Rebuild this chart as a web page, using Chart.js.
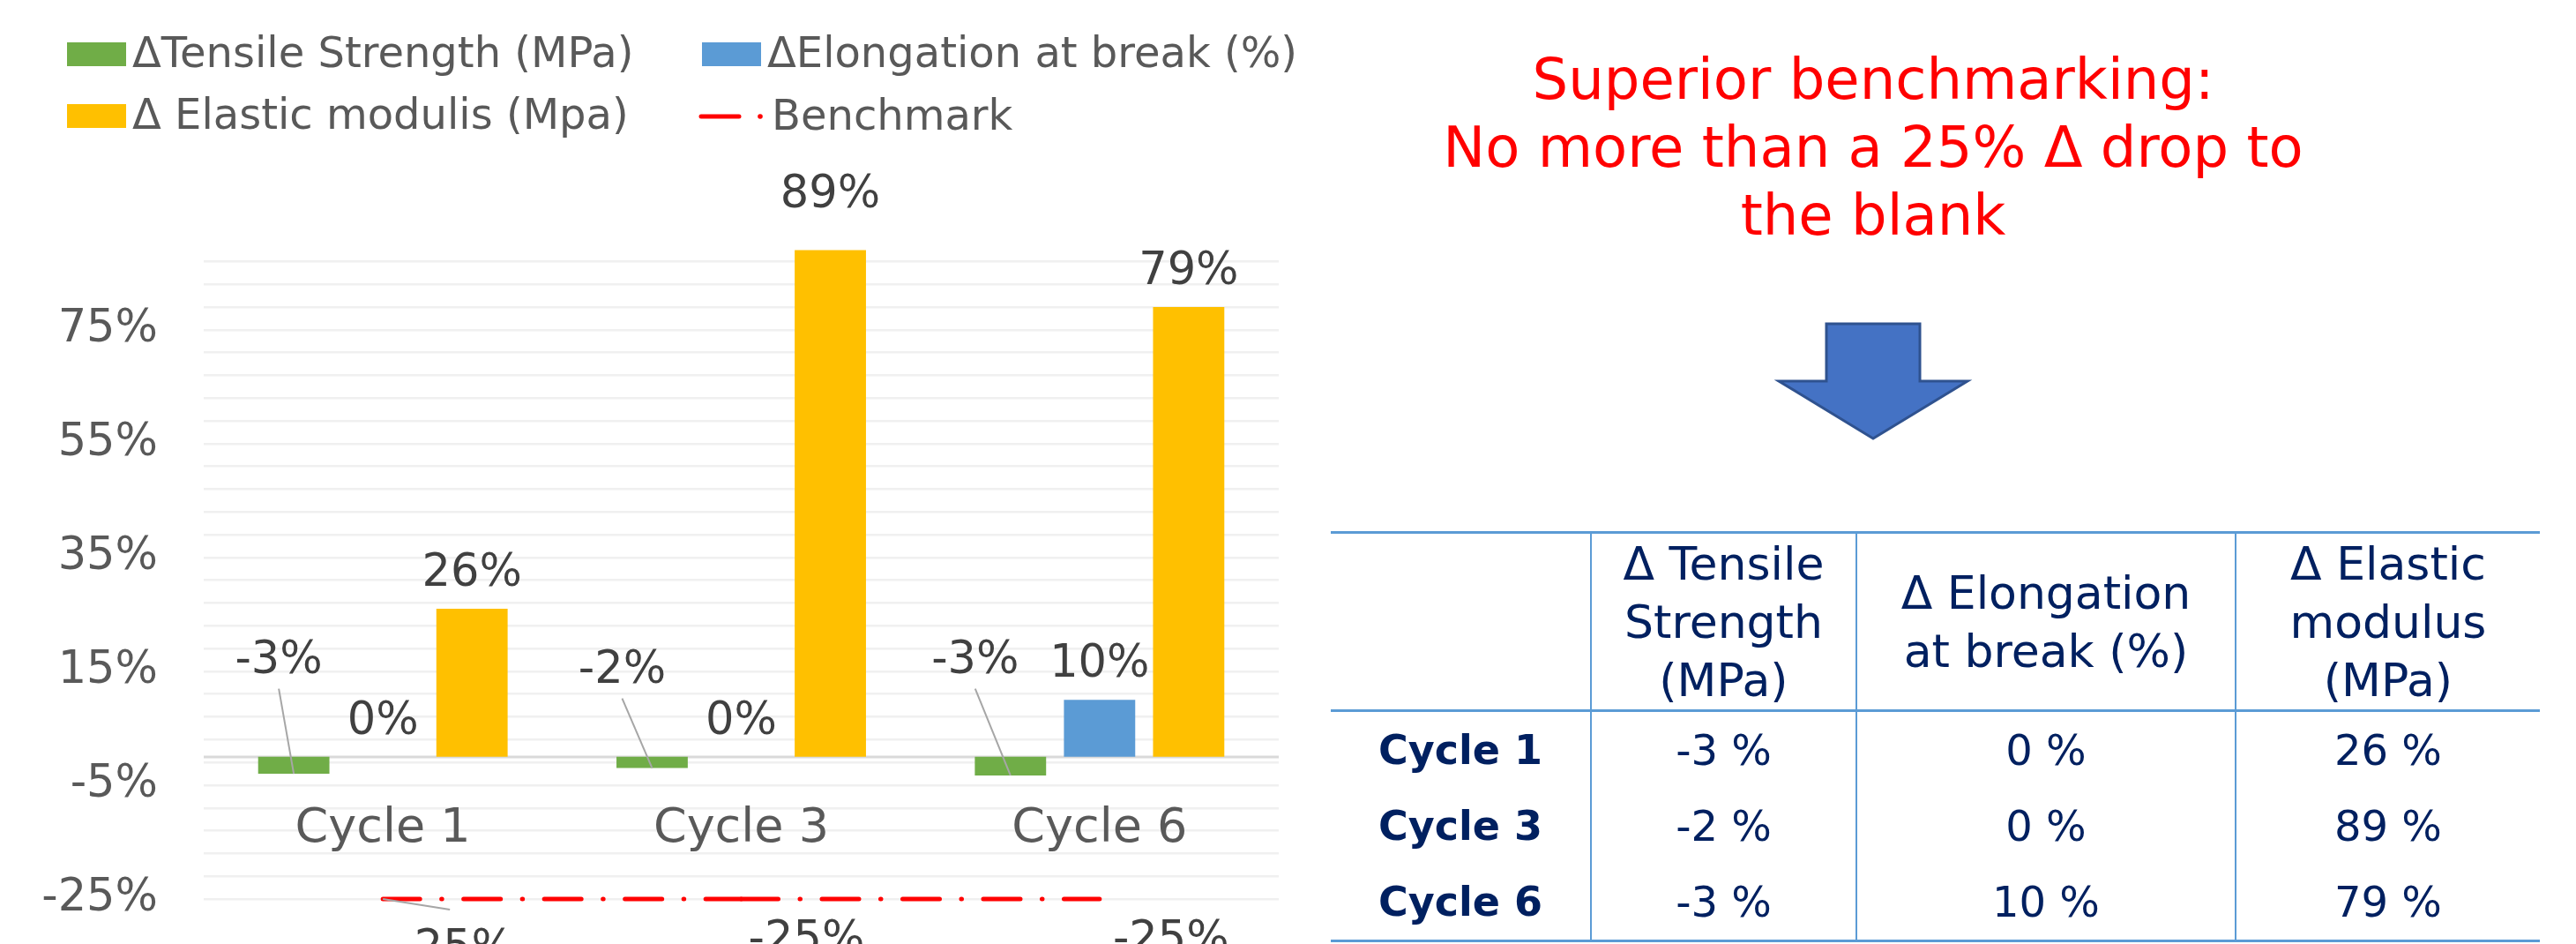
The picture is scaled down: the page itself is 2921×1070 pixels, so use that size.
<!DOCTYPE html>
<html>
<head>
<meta charset="utf-8">
<script src="https://cdn.jsdelivr.net/npm/chart.js@4.4.1/dist/chart.umd.min.js"></script>
<style>
  html, body { margin: 0; padding: 0; background: #fff; }
  body { width: 2921px; height: 1070px; position: relative; overflow: hidden; font-family: 'DejaVu Sans', sans-serif; }
  #chartBox { position: absolute; left: 0; top: 0; }
  #note { position: absolute; left: 1624px; top: 52px; width: 1000px; text-align: center; color: #FF0000; font-size: 64px; line-height: 77px; }
  #arrow { position: absolute; left: 0; top: 0; }
  #results { position: absolute; left: 1509px; top: 602px; border-collapse: collapse; table-layout: fixed; color: #002060; }
  #results td, #results th { padding: 0; text-align: center; vertical-align: middle; }
  #results th { font-weight: normal; font-size: 52px; line-height: 66px; height: 199px; border-top: 3px solid #5B9BD5; border-bottom: 3px solid #5B9BD5; }
  #results td { font-size: 48px; height: 86px; }
  #results tr:last-child td { border-bottom: 3px solid #5B9BD5; }
  #results td.row { font-weight: bold; font-size: 46px; }
  #results .sep { border-left: 2px solid #5B9BD5; }
</style>
</head>
<body>
<canvas id="chartBox" width="1500" height="1070"></canvas>

<div id="note">Superior benchmarking:<br>No more than a 25% Δ drop to<br>the blank</div>

<svg id="arrow" width="2921" height="1070">
  <polygon points="2071,367 2177,367 2177,432 2231,432 2124,497 2017,432 2071,432"
           fill="#4472C4" stroke="#2F528F" stroke-width="3" stroke-linejoin="miter"/>
</svg>

<table id="results">
  <colgroup>
    <col style="width:295px"><col style="width:301px"><col style="width:430px"><col style="width:345px">
  </colgroup>
  <thead>
    <tr>
      <th></th>
      <th class="sep">Δ Tensile<br>Strength<br>(MPa)</th>
      <th class="sep">Δ Elongation<br>at break (%)</th>
      <th class="sep">Δ Elastic<br>modulus<br>(MPa)</th>
    </tr>
  </thead>
  <tbody id="resultsBody"></tbody>
</table>

<script>
const categories = ['Cycle 1', 'Cycle 3', 'Cycle 6'];
const tensileStrength = [-0.03, -0.02, -0.033];
const elongationAtBreak = [0.00, 0.00, 0.10];
const elasticModulus = [0.26, 0.89, 0.79];
const benchmark = [-0.25, -0.25, -0.25];
const yLabelValues = [-0.25, -0.05, 0.15, 0.35, 0.55, 0.75];
const yTickLabels = ['-25%', '-5%', '15%', '35%', '55%', '75%'];
const yMin = -0.25;
const yMax = 0.90;
const gridStep = 0.04;

const FONT = '"DejaVu Sans", sans-serif';
const colors = { tensile: '#70AD47', elongation: '#5B9BD5', elastic: '#FFC000', bench: '#FF0000' };

// hand-moved labels, like in the original sheet
const tensileLabelShift = [{ dx: -17, dy: -95 }, { dx: -34, dy: -84 }, { dx: -40, dy: -95 }];
const benchLabelShift = [{ dx: 83, dy: 71 }, { dx: 74, dy: 61 }, { dx: 81, dy: 61 }];

const pct = v => Math.round(v * 100) + '%';

// table under the arrow
const body = document.getElementById('resultsBody');
categories.forEach((c, i) => {
    const tr = document.createElement('tr');
    const cells = [tensileStrength[i], elongationAtBreak[i], elasticModulus[i]]
        .map(v => `<td class="sep">${Math.round(v * 100)} %</td>`).join('');
    tr.innerHTML = `<td class="row">${c}</td>` + cells;
    body.appendChild(tr);
});

function leader(ctx, x1, y1, x2, y2) {
    ctx.save();
    ctx.strokeStyle = '#A6A6A6';
    ctx.lineWidth = 2;
    ctx.beginPath();
    ctx.moveTo(x1, y1);
    ctx.lineTo(x2, y2);
    ctx.stroke();
    ctx.restore();
}

const excelLabels = {
    id: 'excelLabels',
    beforeDatasetsDraw(chart) {
        const { ctx, chartArea, scales: { y } } = chart;
        const y0 = Math.round(y.getPixelForValue(0));
        ctx.save();
        ctx.strokeStyle = '#D9D9D9';
        ctx.lineWidth = 3;
        ctx.beginPath();
        ctx.moveTo(chartArea.left, y0);
        ctx.lineTo(chartArea.right, y0);
        ctx.stroke();
        ctx.restore();
    },
    afterDatasetsDraw(chart) {
        const { ctx, scales: { x, y } } = chart;
        const y0 = y.getPixelForValue(0);
        ctx.save();
        ctx.textAlign = 'center';
        ctx.textBaseline = 'alphabetic';
        ctx.font = '51px ' + FONT;
        ctx.fillStyle = '#404040';

        // Tensile labels sit above the bars with leader lines
        chart.getDatasetMeta(0).data.forEach((bar, i) => {
            const s = tensileLabelShift[i];
            const lx = bar.x + s.dx, ly = y0 + s.dy;
            ctx.fillText(pct(tensileStrength[i]), lx, ly);
            leader(ctx, lx, ly + 18, bar.x, bar.y);
        });

        // outside end labels
        [1, 2].forEach(d => {
            chart.getDatasetMeta(d).data.forEach((bar, i) => {
                const v = chart.data.datasets[d].data[i];
                let ly = bar.y - 26;
                if (d === 2 && i === 1) ly -= 22;
                ctx.fillText(pct(v), bar.x, ly);
            });
        });

        // benchmark labels, mostly cut off by the slide edge
        chart.getDatasetMeta(3).data.forEach((pt, i) => {
            const s = benchLabelShift[i];
            if (i === 0) leader(ctx, pt.x, pt.y, pt.x + 76, pt.y + 12);
            ctx.fillText(pct(benchmark[i]), pt.x + s.dx, pt.y + s.dy);
        });

        // category labels next to the zero axis
        ctx.font = '54px ' + FONT;
        ctx.fillStyle = '#595959';
        categories.forEach((c, i) => {
            ctx.fillText(c, x.getPixelForValue(i), y0 + 96);
        });
        ctx.restore();
    },
    afterDraw(chart) {
        const ctx = chart.ctx;
        const ds = chart.data.datasets;
        const slots = [{ x: 76, y: 48 }, { x: 796, y: 48 }, { x: 76, y: 118 }, { x: 793, y: 118 }];
        ctx.save();
        ctx.font = '48px ' + FONT;
        ctx.fillStyle = '#595959';
        ctx.textBaseline = 'alphabetic';
        ctx.textAlign = 'left';
        ds.forEach((d, i) => {
            const s = slots[i];
            if (d.type === 'line') {
                ctx.strokeStyle = d.borderColor;
                ctx.lineWidth = 5;
                ctx.lineCap = 'round';
                ctx.beginPath();
                ctx.moveTo(s.x + 2, s.y + 14);
                ctx.lineTo(s.x + 45, s.y + 14);
                ctx.stroke();
                ctx.beginPath();
                ctx.arc(s.x + 69, s.y + 14, 2.8, 0, Math.PI * 2);
                ctx.fillStyle = d.borderColor;
                ctx.fill();
                ctx.fillStyle = '#595959';
                ctx.fillText(d.label, s.x + 82, s.y + 29);
            } else {
                ctx.fillStyle = d.backgroundColor;
                ctx.fillRect(s.x, s.y, 67, 27);
                ctx.fillStyle = '#595959';
                ctx.fillText(d.label, s.x + 74, s.y + 28);
            }
        });
        ctx.restore();
    }
};

new Chart(document.getElementById('chartBox'), {
    type: 'bar',
    data: {
        labels: categories,
        datasets: [
            { label: 'ΔTensile Strength (MPa)', data: tensileStrength, backgroundColor: colors.tensile },
            { label: 'ΔElongation at break (%)', data: elongationAtBreak, backgroundColor: colors.elongation },
            { label: 'Δ Elastic modulis (Mpa)', data: elasticModulus, backgroundColor: colors.elastic },
            {
                type: 'line', label: 'Benchmark', data: benchmark,
                borderColor: colors.bench, borderWidth: 5, borderCapStyle: 'round',
                borderDash: [42, 24.5, 0.5, 24.5], pointRadius: 0, fill: false, clip: false,
                // Excel restarts the dash pattern on every segment
                segment: { borderDashOffset: c => c.p0DataIndex * 0.001 }
            }
        ]
    },
    options: {
        responsive: false,
        animation: false,
        events: [],
        categoryPercentage: 0.746,
        barPercentage: 0.8,
        layout: { padding: { top: 277, bottom: 51, left: 0, right: 50 } },
        plugins: { legend: { display: false }, tooltip: { enabled: false } },
        scales: {
            x: { display: false, offset: true },
            y: {
                min: yMin,
                max: yMax,
                border: { display: false },
                grid: { color: '#F0F0F0', lineWidth: 2.5, drawTicks: false },
                afterBuildTicks: scale => {
                    const ticks = [];
                    for (let v = yMin; v < yMax - 0.001; v += gridStep) ticks.push({ value: Math.round(v * 100) / 100 });
                    scale.ticks = ticks;
                },
                afterFit: scale => {
                    scale.width = 231;
                    scale.paddingTop = 0;
                    scale.paddingBottom = 0;
                },
                ticks: {
                    autoSkip: false,
                    padding: 52,
                    color: '#595959',
                    font: { family: FONT, size: 51 },
                    callback: v => {
                        const k = yLabelValues.findIndex(t => Math.abs(t - v) < 0.001);
                        return k >= 0 ? yTickLabels[k] : '';
                    }
                }
            }
        }
    },
    plugins: [excelLabels]
});
</script>
</body>
</html>
